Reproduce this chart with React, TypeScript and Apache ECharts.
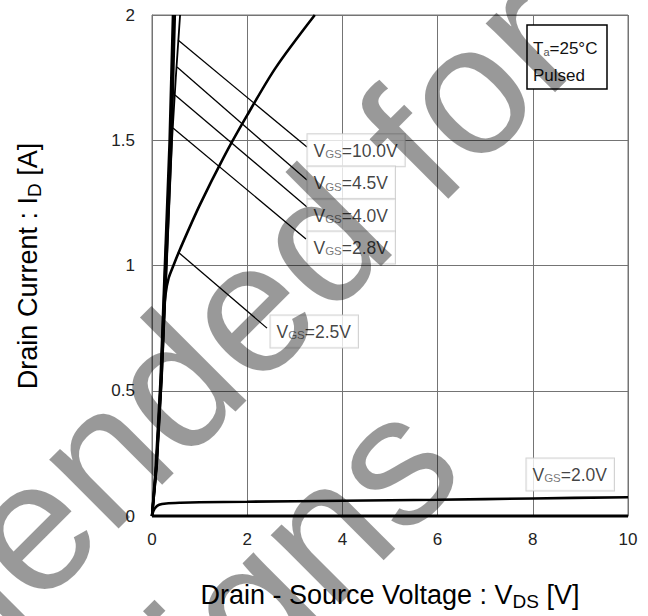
import React, { useEffect, useRef } from "react";
import * as echarts from "echarts";

const xTicks = [0, 2, 4, 6, 8, 10];
const yTicks = [0, 0.5, 1, 1.5, 2];

const vgs10 = [[0, 0], [0.08, 0.2], [0.18, 0.55], [0.27, 1.0], [0.37, 1.5], [0.44, 2.0]];
const vgs45 = [[0, 0], [0.09, 0.2], [0.19, 0.55], [0.28, 1.0], [0.39, 1.5], [0.46, 2.0]];
const vgs40 = [[0, 0], [0.1, 0.2], [0.2, 0.55], [0.3, 1.0], [0.41, 1.5], [0.48, 2.0]];
const vgs28 = [[0, 0], [0.1, 0.2], [0.21, 0.55], [0.31, 1.0], [0.42, 1.5], [0.5, 1.75], [0.59, 2.0]];
const vgs25 = [[0, 0], [0.09, 0.2], [0.19, 0.55], [0.25, 0.8], [0.28, 0.88], [0.35, 0.95], [0.45, 1.0], [0.6, 1.07], [1.0, 1.24], [1.5, 1.43], [2.0, 1.6], [2.6, 1.79], [3.42, 2.0]];
const vgs20 = [[0, 0], [0.03, 0.02], [0.08, 0.035], [0.15, 0.045], [0.3, 0.05], [0.6, 0.053], [1, 0.055], [2, 0.057], [4, 0.061], [6, 0.065], [8, 0.07], [10, 0.075]];
const vgsOff = [[0, 0], [10, 0]];

const curveNames = ["10.0V", "4.5V", "4.0V", "2.8V", "2.5V", "2.0V"];
const pointers = [
  [[0.546, 1.9], [3.256, 1.473]],
  [[0.525, 1.792], [3.256, 1.341]],
  [[0.483, 1.681], [3.256, 1.234]],
  [[0.441, 1.549], [3.235, 1.106]],
  [[0.546, 1.054], [2.416, 0.75]],
];
const labelAnchors = [
  [3.256, 1.46],
  [3.256, 1.331],
  [3.256, 1.2],
  [3.256, 1.072],
  [2.479, 0.737],
  [7.857, 0.166],
];

const FONT = "'Liberation Sans', Arial, Helvetica, sans-serif";
const GRID_COLOR = "#747474";

export default function App() {
  const ref = useRef<HTMLDivElement>(null);
  useEffect(() => {
    if (!ref.current) return;
    const chart = echarts.init(ref.current, undefined, { renderer: "svg" });
    const curve = (data: number[][], width: number, smooth: number | boolean = false) => ({
      type: "line",
      data,
      showSymbol: false,
      symbol: "none",
      smooth,
      lineStyle: { color: "#000", width },
      silent: true,
      z: 5,
    });
    const series: any[] = [
      curve(vgs10, 2.5),
      curve(vgs45, 2.5),
      curve(vgs40, 2.5),
      curve(vgs28, 1.8),
      curve(vgs25, 2.6, 0.3),
      { ...curve(vgs20, 2.6, 0.3), clip: false },
      { ...curve(vgsOff, 3), clip: false },
    ];
    pointers.forEach((p) => {
      series.push({
        type: "line",
        data: p,
        symbol: "none",
        lineStyle: { color: "#000", width: 1.3 },
        silent: true,
        z: 4,
      });
    });
    series.push({
      type: "scatter",
      data: labelAnchors.map((a, i) => ({ value: a, name: curveNames[i] })),
      symbol: "rect",
      symbolSize: 1,
      itemStyle: { color: "rgba(0,0,0,0)" },
      silent: true,
      z: 6,
      label: {
        show: true,
        position: "right",
        distance: 0,
        formatter: (p: any) => `{v|V}{s|GS}{n|=${p.name}}`,
        backgroundColor: "#fff",
        borderColor: "#c8c8c8",
        borderWidth: 1,
        padding: [7, 7, 6, 6],
        rich: {
          v: { fontSize: 17.5, fontFamily: FONT, color: "#111", lineHeight: 19 },
          n: { fontSize: 17.5, fontFamily: FONT, color: "#111", lineHeight: 19 },
          s: { fontSize: 11.5, fontFamily: FONT, color: "#555", lineHeight: 12, verticalAlign: "bottom" },
        },
      },
    });

    chart.setOption({
      animation: false,
      grid: { left: 152, right: 20, top: 15, bottom: 100, show: true, borderColor: GRID_COLOR, borderWidth: 1 },
      xAxis: {
        type: "value",
        min: 0,
        max: 10,
        interval: 2,
        axisLine: { show: true, lineStyle: { color: GRID_COLOR, width: 1 } },
        axisTick: { show: false },
        splitLine: { show: true, lineStyle: { color: GRID_COLOR, width: 1 } },
        axisLabel: {
          margin: 15,
          fontSize: 17,
          fontFamily: FONT,
          color: "#222",
          formatter: (v: number) => (xTicks.includes(v) ? String(v) : ""),
        },
      },
      yAxis: {
        type: "value",
        min: 0,
        max: 2,
        interval: 0.5,
        axisLine: { show: true, lineStyle: { color: GRID_COLOR, width: 1 } },
        axisTick: { show: false },
        splitLine: { show: true, lineStyle: { color: GRID_COLOR, width: 1 } },
        axisLabel: {
          margin: 17,
          fontSize: 17,
          fontFamily: FONT,
          color: "#222",
          formatter: (v: number) => (yTicks.includes(v) ? String(v) : ""),
        },
      },
      series,
      graphic: [
        {
          type: "rect",
          shape: { x: 527, y: 25, width: 80, height: 64 },
          style: { fill: "#fff", stroke: "#000", lineWidth: 1.5 },
          z: 10,
        },
        {
          type: "text",
          x: 533,
          y: 48,
          z: 11,
          style: {
            text: "{t|T}{a|a}{t|=25°C}",
            verticalAlign: "middle",
            align: "left",
            rich: {
              t: { fontSize: 17, fontFamily: FONT, fill: "#111", lineHeight: 19 },
              a: { fontSize: 11, fontFamily: FONT, fill: "#555", lineHeight: 11, verticalAlign: "bottom" },
            },
          },
        },
        {
          type: "text",
          x: 533,
          y: 75,
          z: 11,
          style: { text: "Pulsed", fontSize: 17, fontFamily: FONT, fill: "#111", verticalAlign: "middle", align: "left" },
        },
        {
          type: "text",
          x: 390,
          y: 595,
          z: 11,
          style: {
            text: "{a|Drain - Source Voltage : V}{b|DS}{a| [V]}",
            align: "center",
            verticalAlign: "middle",
            rich: {
              a: { fontSize: 27, fontFamily: FONT, fill: "#000", lineHeight: 32 },
              b: { fontSize: 19, fontFamily: FONT, fill: "#000", lineHeight: 19, verticalAlign: "bottom" },
            },
          },
        },
        {
          type: "text",
          x: 28,
          y: 266,
          rotation: Math.PI / 2,
          z: 11,
          style: {
            text: "{a|Drain Current : I}{b|D}{a| [A]}",
            align: "center",
            verticalAlign: "middle",
            rich: {
              a: { fontSize: 27, fontFamily: FONT, fill: "#000", lineHeight: 32 },
              b: { fontSize: 19, fontFamily: FONT, fill: "#000", lineHeight: 19, verticalAlign: "bottom" },
            },
          },
        },
        {
          type: "text",
          x: -14,
          y: 719,
          rotation: Math.PI / 4,
          z: 100,
          silent: true,
          style: {
            text: "Not recommended for\nnew designs",
            fontSize: 185,
            lineHeight: 210,
            fontFamily: FONT,
            fill: "rgba(0,0,0,0.4)",
            align: "center",
            verticalAlign: "middle",
          },
        },
      ],
    });
    return () => chart.dispose();
  }, []);
  return (
    <div
      ref={ref}
      style={{ position: "fixed", left: 0, top: 0, width: 648, height: 616, background: "#fff" }}
    />
  );
}
